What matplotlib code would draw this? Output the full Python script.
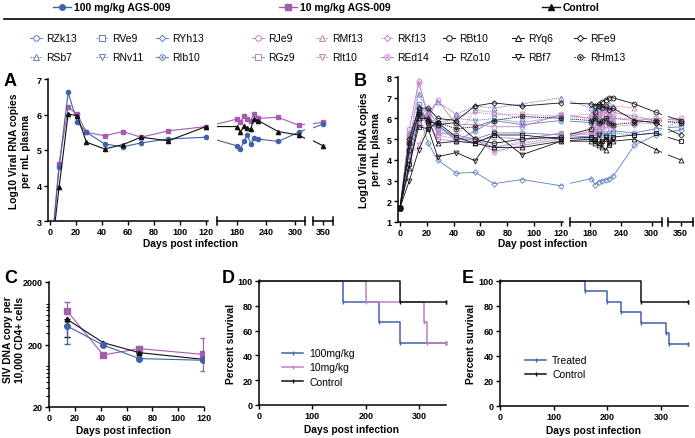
import numpy as np
import matplotlib.pyplot as plt

plt.rcParams['font.family'] = ['Liberation Sans', 'DejaVu Sans']
plt.rcParams['font.weight'] = 'bold'
plt.rcParams['axes.labelweight'] = 'bold'

W, H = 695, 439
nan = np.nan

BLUE = '#4161ad'
PURPLE = '#a55dae'
BLACK = '#111111'
BLUE_L = '#5e7cc6'
PURPLE_L = '#bd82c2'

# ---- A: group means, log10 viral RNA ----
days_a = [0, 7, 14, 21, 28, 42, 56, 70, 91, 120, 180, 188, 195, 202, 209, 215, 224, 265, 307, 350]
mean_100 = [1.7, 4.51, 6.62, 5.78, 5.5, 5.17, 5.09, 5.2, 5.31, 5.36, 5.12, 5.03, 5.24, 5.42, 5.17, 5.34, 5.31, 5.24, 5.5, 5.73]
mean_10 = [1.7, 4.6, 6.2, 6.01, 5.5, 5.4, 5.52, 5.36, 5.54, 5.66, 5.87, 5.78, 5.97, 5.87, 5.83, 6.01, 5.89, 5.92, 5.70, 5.78]
mean_ctl = [1.7, 3.95, 6.01, 5.97, 5.22, 5.03, 5.15, 5.36, 5.26, 5.66, 5.66, 5.52, 5.67, 5.61, 5.59, 5.87, 5.83, 5.52, 5.42, 5.12]

# ---- B: individual animals ----
days_b = [0, 7, 14, 21, 28, 42, 56, 70, 91, 120, 182, 189, 196, 203, 210, 217, 224, 266, 308, 350]
rzk13 = [1.7, 4.8, 6.5, 5.9, 5.7, 5.0, 5.0, 5.3, 5.3, 5.2, 5.1, 5.2, 5.4, 5.3, 5.2, 5.3, 5.4, 5.3, 5.5, 5.6]
rve9 = [1.7, 4.4, 6.7, 5.8, 5.5, 5.2, 5.0, 4.6, 4.8, 5.1, 5.0, 5.1, 5.3, 5.2, 5.1, 5.2, 5.3, 5.2, 5.3, 5.9]
ryh13 = [1.7, 4.0, 6.2, 4.8, 4.0, 3.35, 3.4, 2.85, 3.05, 2.75, 3.1, 2.8, 2.95, 3.0, 3.05, 3.1, 3.2, 4.7, 5.2, 5.45]
rsb7 = [1.7, 5.0, 7.2, 6.3, 6.8, 6.2, 6.6, 6.5, 6.7, 7.0, 6.5, 6.6, 6.4, 6.6, 6.5, 6.7, nan, nan, nan, nan]
rnv11 = [1.7, 4.6, 6.4, 6.0, 5.8, 6.0, 5.9, 6.0, 5.8, 6.1, nan, nan, nan, nan, nan, nan, nan, nan, nan, nan]
rib10 = [1.7, 5.2, 6.4, 6.4, 5.7, 4.9, 5.4, 5.9, 5.7, 5.9, 5.8, 5.9, 6.0, 5.8, 5.9, 6.1, 5.8, nan, nan, nan]
rje9 = [1.7, 5.5, 7.8, 6.0, 6.9, 5.7, 5.7, 5.6, 5.6, 6.2, 6.0, 6.2, 6.1, 6.3, 6.2, 6.4, 6.3, 6.1, 5.9, 6.0]
rmf13 = [1.7, 5.0, 6.6, 6.2, 5.4, 5.1, 6.4, 6.3, 6.0, 6.1, 6.2, 6.4, 6.5, 6.6, 6.4, 6.5, 6.6, 6.5, nan, nan]
rkf13 = [1.7, 4.7, 7.7, 6.2, 5.2, 5.0, 5.0, 4.6, 4.9, 5.3, 5.3, 5.4, 5.5, 5.6, 5.5, 5.7, 5.6, 5.7, 5.8, 5.8]
rgz9 = [1.7, 5.3, 6.0, 5.8, 5.0, 4.9, 4.9, 5.1, 5.0, 5.3, 5.2, 5.3, 5.1, nan, nan, nan, nan, nan, nan, nan]
rit10 = [1.7, 4.3, 4.7, 5.7, 5.6, 6.1, 6.3, 6.2, 6.2, 6.1, 6.0, 6.1, 6.2, 6.0, 5.9, 6.1, 6.0, 6.0, 5.7, nan]
red14 = [1.7, 5.1, 5.7, 6.3, 5.3, 5.2, 5.0, 4.4, 4.7, 5.0, 5.4, 5.6, 5.8, 5.7, 5.9, 5.8, 6.0, 5.9, 6.0, 5.9]
rbt10 = [1.7, 4.5, 6.3, 5.9, 5.7, 5.8, 5.0, 4.8, 5.0, 5.1, 5.5, 6.3, 6.6, 6.8, 6.9, 7.0, 7.0, 6.7, 6.3, 5.9]
ryq6 = [1.7, 3.6, 6.0, 6.0, 4.8, 4.9, 4.8, 4.6, 4.6, 4.9, 4.9, 4.8, 4.7, 4.6, 4.5, 4.8, 4.9, 5.0, 4.5, 4.0]
rfe9 = [1.7, 5.0, 6.5, 6.5, 6.0, 5.9, 6.6, 6.75, 6.6, 6.75, 6.7, 6.6, 6.7, 6.5, 6.6, 6.4, 6.5, 5.9, 5.8, 5.2]
rzo10 = [1.7, 3.8, 5.6, 5.5, 5.8, 5.1, 4.8, 5.2, 5.2, 5.0, 5.1, 5.0, 4.8, 4.9, 5.0, 4.7, 5.1, 5.2, 5.3, 4.9]
rbf7 = [1.7, 3.0, 4.5, 5.5, 4.15, 4.35, 3.95, 5.3, 4.25, 4.9, 5.0, 4.9, 5.2, 4.8, 5.1, 4.9, 5.0, nan, nan, nan]
rhm13 = [1.7, 4.8, 6.2, 5.8, 5.8, 5.5, 5.6, 5.9, 6.1, 6.0, 5.9, 6.0, 5.8, 5.9, 6.0, 5.8, 5.7, 5.8, 5.9, 5.8]

# ---- C: SIV DNA ----
dna_days = [14, 42, 70, 119]
dna_100 = [395, 196, 119, 112]
dna_10 = [687, 136, 172, 139]
dna_ctl = [506, 214, 148, 116]
dna_100_lo = [190, 0, 0, 0]
dna_10_lo = [0, 0, 0, 64]
dna_10_hi = [263, 0, 0, 119]
dna_ctl_lo = [241, 0, 0, 0]

# ---- D/E: survival ----
km_100_t = [0, 158, 225, 263, 350]
km_100_s = [100, 83.3, 66.7, 50, 50]
km_10_t = [0, 200, 309, 314, 350]
km_10_s = [100, 83.3, 66.7, 50, 50]
km_ctl_t = [0, 263, 350]
km_ctl_s = [100, 83.3, 83.3]
km_trt_t = [0, 158, 200, 225, 263, 309, 314, 350]
km_trt_s = [100, 91.7, 83.3, 75, 66.7, 58.3, 50, 50]

fig = plt.figure(figsize=(W / 100, H / 100), dpi=100)
LAB = 7.4


def box(l, r, t, b):
    return [l / W, 1 - b / H, (r - l) / W, (b - t) / H]


def style(ax):
    ax.patch.set_alpha(0)
    ax.spines[['top', 'right']].set_visible(False)
    for s in ax.spines.values():
        s.set_linewidth(1.1)
    ax.tick_params(direction='out', length=3, width=1, labelsize=6.5, pad=1.5)


def broken(xs, top, bottom, ylim, yticks):
    spans = [(-1.5, 121.5, [0, 20, 40, 60, 80, 100, 120]),
             (140, 320, [180, 240, 300]),
             (330, 370, [350])]
    axs = []
    for i, ((l, r), (x0, x1, ticks)) in enumerate(zip(xs, spans)):
        ax = fig.add_axes(box(l, r, top, bottom))
        style(ax)
        ax.set_xlim(x0, x1)
        ax.set_ylim(*ylim)
        ax.set_xticks(ticks)
        if i == 0:
            ax.set_yticks(yticks)
        else:
            ax.spines['left'].set_visible(False)
            ax.set_yticks([])
            for xe in (0, 1):
                ax.plot([xe, xe], [-0.03, 0.03], transform=ax.transAxes,
                        color='k', lw=1.1, clip_on=False)
        axs.append(ax)
    return axs


# ---- panel A ----
axA = broken([(48, 208), (217, 305), (313, 333)], 80, 222, (3, 7), [3, 4, 5, 6, 7])
for ax in axA:
    ax.plot(days_a, mean_100, color=BLUE, lw=0.8, marker='o', ms=3, zorder=3)
    ax.plot(days_a, mean_10, color=PURPLE, lw=0.8, marker='s', ms=3, zorder=2)
    ax.plot(days_a, mean_ctl, color=BLACK, lw=0.8, marker='^', ms=3, zorder=4)

# ---- panel B ----
axB = broken([(398, 563), (570, 662), (668, 693)], 78, 223, (1, 8), [1, 2, 3, 4, 5, 6, 7, 8])
dot = (0, (1.5, 1))
animals = [
    ('RZk13', rzk13, BLUE_L, 'o', '-', False), ('RVe9', rve9, BLUE_L, 's', dot, False),
    ('RYh13', ryh13, BLUE_L, 'D', '-', False), ('RSb7', rsb7, BLUE_L, '^', dot, False),
    ('RNv11', rnv11, BLUE_L, 'v', dot, False), ('RIb10', rib10, BLUE_L, 'o', '-', True),
    ('RJe9', rje9, PURPLE_L, 'o', '-', False), ('RMf13', rmf13, PURPLE_L, '^', dot, False),
    ('RKf13', rkf13, PURPLE_L, 'D', dot, False), ('RGz9', rgz9, PURPLE_L, 's', '-', False),
    ('RIt10', rit10, PURPLE_L, 'v', dot, False), ('REd14', red14, PURPLE_L, 'o', '-', True),
    ('RBt10', rbt10, BLACK, 'o', '-', False), ('RYq6', ryq6, BLACK, '^', '-', False),
    ('RFe9', rfe9, BLACK, 'D', '-', False), ('RZo10', rzo10, BLACK, 's', '-', False),
    ('RBf7', rbf7, BLACK, 'v', '-', False), ('RHm13', rhm13, BLACK, 'o', dot, True),
]
for ax in axB:
    for name, vals, col, mk, ls, dt in animals:
        ms = 2.8 if mk == 'D' else 3.5
        ax.plot(days_b, vals, color=col, ls=ls, lw=0.6, marker=mk, ms=ms,
                mfc='none', mec=col, mew=0.6)
        if dt:
            ax.plot(days_b, vals, ls='none', marker='.', ms=1.5, color=col)

fig.text(190 / W, 1 - 244 / H, 'Days post infection', ha='center', va='center', fontsize=LAB)
fig.text(543 / W, 1 - 244 / H, 'Day post infection', ha='center', va='center', fontsize=LAB)
fig.text(20 / W, 1 - 151 / H, 'Log10 Viral RNA copies\nper mL plasma', rotation=90,
         ha='center', va='center', fontsize=LAB, multialignment='center', linespacing=1.15)
fig.text(370 / W, 1 - 150 / H, 'Log10 Viral RNA copies\nper mL plasma', rotation=90,
         ha='center', va='center', fontsize=LAB, multialignment='center', linespacing=1.15)

# ---- panel C ----
axC = fig.add_axes(box(49, 204, 283, 408))
style(axC)
axC.set_yscale('log')
axC.set_ylim(20, 2000)
axC.set_xlim(0, 120)
axC.set_xticks([0, 20, 40, 60, 80, 100, 120])
axC.set_yticks([20, 200, 2000])
axC.set_yticklabels(['20', '200', '2000'])
axC.tick_params(which='minor', length=2, width=0.8)
axC.errorbar(dna_days, dna_10, yerr=[dna_10_lo, dna_10_hi], color=PURPLE, lw=0.8,
             marker='s', ms=4, capsize=2.5, elinewidth=0.9)
axC.errorbar(dna_days, dna_ctl, yerr=[dna_ctl_lo, [0] * 4], color=BLACK, lw=0.8,
             marker='^', ms=3.5, capsize=2.5, elinewidth=0.9)
axC.errorbar(dna_days, dna_100, yerr=[dna_100_lo, [0] * 4], color=BLUE, lw=0.8,
             marker='o', ms=4, capsize=2.5, elinewidth=0.9)
fig.text(123 / W, 1 - 431 / H, 'Days post infection', ha='center', va='center', fontsize=LAB)
fig.text(14 / W, 1 - 340 / H, 'SIV DNA copy per\n10,000 CD4+ cells', rotation=90,
         ha='center', va='center', fontsize=LAB, multialignment='center', linespacing=1.15)

# ---- panels D and E ----
def km(ax, t, s, col, label):
    ax.step(t, s, where='post', color=col, lw=1.1, clip_on=False, label=label)
    ax.plot(t[-1], s[-1], marker='|', color=col, ms=3, clip_on=False)


axD = fig.add_axes(box(259, 446, 282, 406))
axE = fig.add_axes(box(500, 688, 282, 407))
for ax in (axD, axE):
    style(ax)
    ax.set_xlim(0, 350)
    ax.set_ylim(0, 100)
    ax.set_xticks([0, 100, 200, 300])
    ax.set_yticks([0, 20, 40, 60, 80, 100])

km(axD, km_100_t, km_100_s, BLUE, '100mg/kg')
km(axD, km_10_t, km_10_s, PURPLE_L, '10mg/kg')
km(axD, km_ctl_t, km_ctl_s, BLACK, 'Control')
km(axE, km_trt_t, km_trt_s, BLUE, 'Treated')
km(axE, km_ctl_t, km_ctl_s, BLACK, 'Control')

for ax, anchor in ((axD, (277, 344)), (axE, (520, 351))):
    h, l = ax.get_legend_handles_labels()
    for hh in h:
        hh.set_marker('|')
        hh.set_markersize(3)
    ax.legend(h, l, loc='upper left', bbox_to_anchor=(anchor[0] / W, 1 - anchor[1] / H),
              bbox_transform=fig.transFigure, frameon=False,
              prop={'weight': 'normal', 'size': 7.5}, handlelength=2.0, labelspacing=0.4,
              borderpad=0, handletextpad=0.6)

fig.text(352 / W, 1 - 430 / H, 'Days post infection', ha='center', va='center', fontsize=LAB)
fig.text(593 / W, 1 - 431 / H, 'Days post infection', ha='center', va='center', fontsize=LAB)
fig.text(231 / W, 1 - 344 / H, 'Percent survival', rotation=90, ha='center', va='center', fontsize=LAB)
fig.text(471 / W, 1 - 344 / H, 'Percent survival', rotation=90, ha='center', va='center', fontsize=LAB)

# ---- panel letters ----
for letter, x, y in (('A', 4, 86), ('B', 354, 86), ('C', 4, 283), ('D', 222, 283), ('E', 462, 283)):
    fig.text(x / W, 1 - y / H, letter, fontsize=13, ha='left', va='baseline')

# ---- top legend ----
lg = fig.add_axes([0, 0, 1, 1])
lg.set_xlim(0, W)
lg.set_ylim(H, 0)
lg.axis('off')
lg.plot([4, 695], [20, 20], color='k', lw=1.2)
for x, col, mk, text in ((62, BLUE, 'o', '100 mg/kg AGS-009'),
                         (288, PURPLE, 's', '10 mg/kg AGS-009'),
                         (551, BLACK, '^', 'Control')):
    lg.plot([x - 9, x + 9], [8, 8], color=col, lw=1)
    lg.plot([x], [8], marker=mk, color=col, ms=4)
    lg.text(x + 12, 8, text, va='center', ha='left', fontsize=7.5)

legend_pos = [(36, 39), (102, 39), (162, 39), (36, 58), (102, 58), (162, 58),
              (258, 39), (322, 39), (387, 39), (258, 58), (322, 58), (387, 58),
              (449, 39), (518, 39), (580, 39), (449, 58), (518, 58), (580, 58)]
for (x, y), (name, vals, col, mk, ls, dt) in zip(legend_pos, animals):
    lg.plot([x - 6, x + 6], [y, y], color=col, ls=ls, lw=0.7)
    lg.plot([x], [y], marker=mk, mfc='white', mec=col, mew=0.7, ms=3.2 if mk == 'D' else 4)
    if dt:
        lg.plot([x], [y], marker='.', color=col, ms=1.5)
    lg.text(x + 10, y, name, va='center', ha='left', fontsize=7.5, fontweight='normal')

fig.savefig('out.png', dpi=100)
